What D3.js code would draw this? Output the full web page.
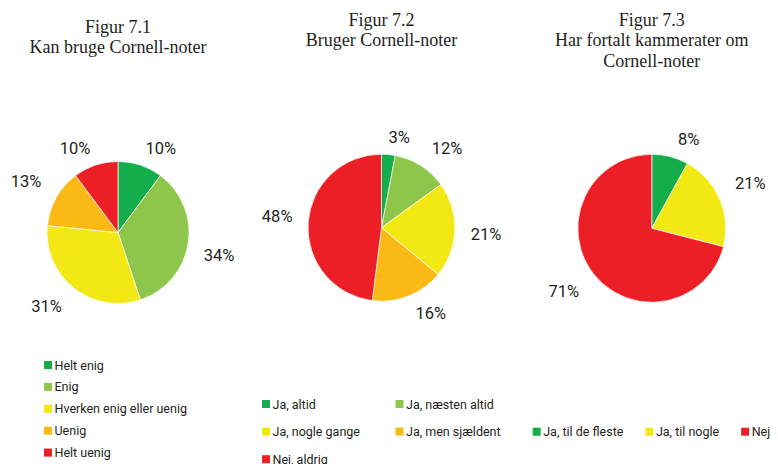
<!DOCTYPE html>
<html>
<head>
<meta charset="utf-8">
<script src="https://cdn.jsdelivr.net/npm/d3@7"></script>
<style>
  html, body { margin: 0; padding: 0; background: #ffffff; }
  svg { display: block; }
</style>
</head>
<body>
<svg id="chart" width="778" height="464"></svg>
<script>
// ---- Data ----
const chart1Title = ["Figur 7.1", "Kan bruge Cornell-noter"];
const chart1Categories = ["Helt enig", "Enig", "Hverken enig eller uenig", "Uenig", "Helt uenig"];
const chart1Values = [10, 34, 31, 13, 10];
const chart1Labels = ["10%", "34%", "31%", "13%", "10%"];

const chart2Title = ["Figur 7.2", "Bruger Cornell-noter"];
const chart2Categories = ["Ja, altid", "Ja, næsten altid", "Ja, nogle gange", "Ja, men sjældent", "Nej, aldrig"];
const chart2Values = [3, 12, 21, 16, 48];
const chart2Labels = ["3%", "12%", "21%", "16%", "48%"];

const chart3Title = ["Figur 7.3", "Har fortalt kammerater om", "Cornell-noter"];
const chart3Categories = ["Ja, til de fleste", "Ja, til nogle", "Nej"];
const chart3Values = [8, 21, 71];
const chart3Labels = ["8%", "21%", "71%"];

// ---- Styles ----
const C = { green: "#13ad4b", lightGreen: "#8dc64a", yellow: "#f2e814", orange: "#fbb916", red: "#ed1f26" };
const chart1Colors = [C.green, C.lightGreen, C.yellow, C.orange, C.red];
const chart2Colors = [C.green, C.lightGreen, C.yellow, C.orange, C.red];
const chart3Colors = [C.green, C.yellow, C.red];

const svg = d3.select("#chart");
const textColor = "#231f20";

const charts = [
  { title: chart1Title, cats: chart1Categories, vals: chart1Values, labels: chart1Labels, colors: chart1Colors,
    cx: 118, cy: 232.5, r: 71, titleY: 33,
    legend: { x: 44, y: 365, colW: 0, rowH: 21.9, cols: 1 } },
  { title: chart2Title, cats: chart2Categories, vals: chart2Values, labels: chart2Labels, colors: chart2Colors,
    cx: 381.5, cy: 227.7, r: 73.5, titleY: 26,
    legend: { x: 262, y: 404, colW: 133.5, rowH: 27.6, cols: 2 } },
  { title: chart3Title, cats: chart3Categories, vals: chart3Values, labels: chart3Labels, colors: chart3Colors,
    cx: 651.8, cy: 228.3, r: 74, titleY: 26,
    legend: { x: 532.7, y: 431.7, flow: true, gap: 22 } }
];

charts.forEach(ch => {
  const g = svg.append("g");

  // Title
  const t = g.append("text")
    .attr("x", ch.cx)
    .attr("y", ch.titleY)
    .attr("text-anchor", "middle")
    .attr("font-family", "'Liberation Serif', 'Times New Roman', serif")
    .attr("font-size", 18)
    .attr("fill", textColor);
  ch.title.forEach((line, i) => {
    t.append("tspan").attr("x", ch.cx).attr("dy", i === 0 ? 0 : 20.3).text(line);
  });

  // Pie
  const color = d3.scaleOrdinal().domain(ch.cats).range(ch.colors);
  const pie = d3.pie().sort(null).value(d => d.v).startAngle(0).endAngle(2 * Math.PI);
  const data = ch.cats.map((c, i) => ({ c, v: ch.vals[i], label: ch.labels[i] }));
  const arcs = pie(data);
  const arc = d3.arc().innerRadius(0).outerRadius(ch.r);

  const pg = g.append("g").attr("transform", `translate(${ch.cx},${ch.cy})`);
  pg.selectAll("path")
    .data(arcs)
    .join("path")
    .attr("d", arc)
    .attr("fill", d => color(d.data.c))
    .attr("stroke", "#ffffff")
    .attr("stroke-width", 0.7);

  // Labels placed outside on a rounded (superellipse) path
  const Rx = ch.r + 31, Ry = ch.r + 17, p = 0.75;
  pg.selectAll("text.lbl")
    .data(arcs)
    .join("text")
    .attr("class", "lbl")
    .attr("x", d => {
      const a = (d.startAngle + d.endAngle) / 2;
      const s = Math.sin(a);
      return Rx * Math.sign(s) * Math.pow(Math.abs(s), p);
    })
    .attr("y", d => {
      const a = (d.startAngle + d.endAngle) / 2;
      const c = Math.cos(a);
      return -Ry * Math.sign(c) * Math.pow(Math.abs(c), p);
    })
    .attr("dy", "0.36em")
    .attr("text-anchor", "middle")
    .attr("font-family", "Roboto, 'Noto Sans', sans-serif")
    .attr("font-size", 16.5)
    .attr("fill", textColor)
    .text(d => d.data.label);

  // Legend
  const L = ch.legend;
  const lg = g.append("g");
  let flowX = L.x;
  ch.cats.forEach((c, i) => {
    let x, y;
    if (L.flow) {
      x = flowX; y = L.y;
    } else {
      x = L.x + (i % L.cols) * L.colW;
      y = L.y + Math.floor(i / L.cols) * L.rowH;
    }
    const item = lg.append("g").attr("transform", `translate(${x},${y})`);
    item.append("rect").attr("x", 0).attr("y", -4).attr("width", 8).attr("height", 8).attr("fill", color(c));
    const tx = item.append("text")
      .attr("x", 10.5)
      .attr("y", 0)
      .attr("dy", "0.36em")
      .attr("font-family", "Roboto, 'Noto Sans', sans-serif")
      .attr("font-size", 12.5)
      .attr("fill", textColor)
      .text(c);
    if (L.flow) {
      flowX += 10.5 + tx.node().getComputedTextLength() + L.gap;
    }
  });
});
</script>
</body>
</html>
